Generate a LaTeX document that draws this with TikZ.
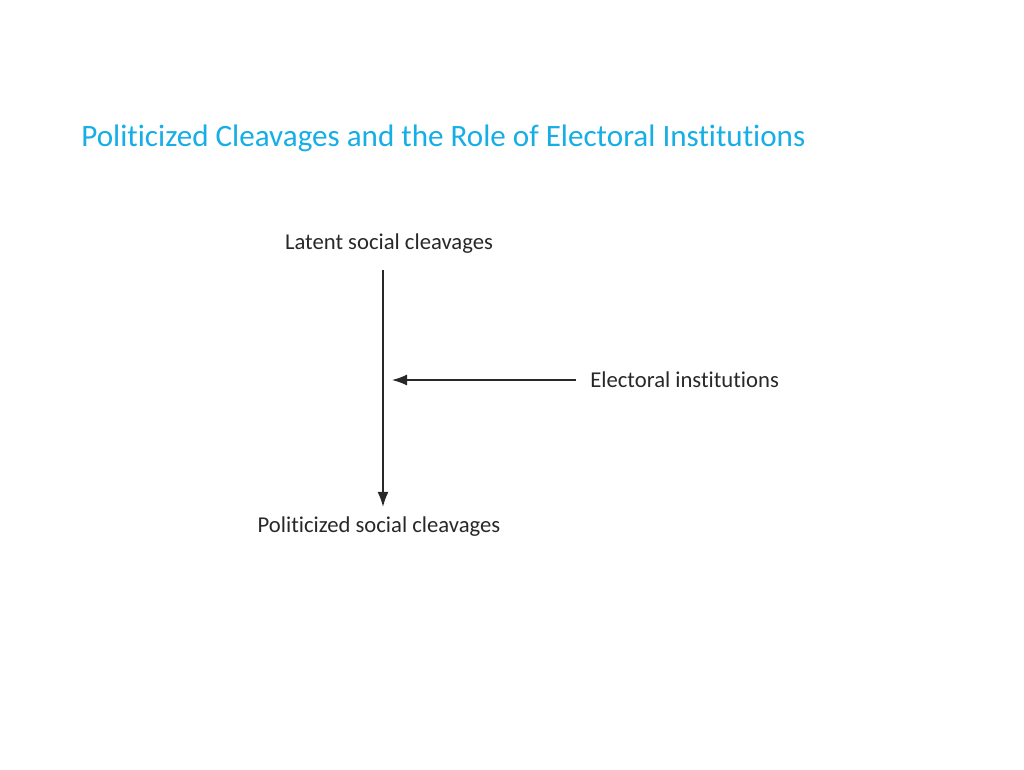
\documentclass[tikz,border=0pt]{standalone}
\usepackage{fontspec}
\setmainfont{Carlito}[Ligatures=NoCommon]
\usetikzlibrary{arrows.meta}
\definecolor{titleblue}{RGB}{22,174,230}
\definecolor{inkgrey}{RGB}{40,40,40}
\begin{document}
\begin{tikzpicture}[x=0.02cm,y=-0.02cm,>={Latex[length=0.3cm,width=0.22cm]},
    lbl/.style={inner sep=0pt,font=\fontsize{12.9}{15}\selectfont,text=inkgrey},
    arr/.style={->,draw=inkgrey,line width=0.8pt}]
\useasboundingbox (0,0) rectangle (1024,769);
\node[anchor=base west,inner sep=0pt,text=titleblue,font=\fontsize{17.7}{22}\selectfont] (title) at (81,146) {Politicized Cleavages and the Role of Electoral Institutions};
\node[lbl] (latent) at (389,244) {Latent social cleavages};
\node[lbl] (polit) at (379,527) {Politicized social cleavages};
\node[lbl,anchor=west] (inst) at (590,380) {Electoral institutions};
\coordinate (axis) at (383,379);
\coordinate (hit) at (392,379);
% the two arrows
\draw[arr,shorten <=0.32cm,shorten >=0.2cm] (latent.south -| axis) -- (polit.north -| axis);
\draw[arr,shorten <=0.28cm] (inst.west) -- (inst.west -| hit);
\end{tikzpicture}
\end{document}
